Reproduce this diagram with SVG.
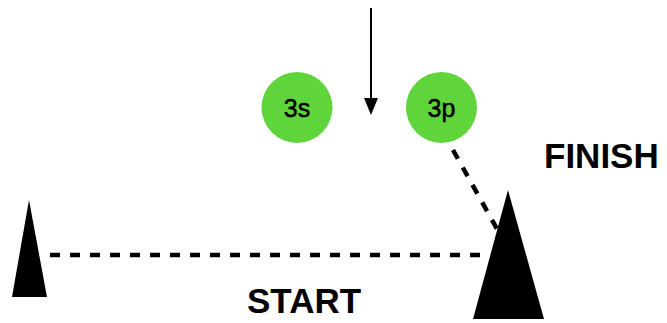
<svg xmlns="http://www.w3.org/2000/svg" width="667" height="323" viewBox="0 0 667 323">
<style>
.dash{stroke:#000;stroke-width:4.5;stroke-dasharray:10 10;fill:none}
.node{fill:#5fd43b}
.lbl{font-family:"Liberation Sans",Arial,sans-serif;font-size:25px;fill:#000;stroke:#000;stroke-width:0.5;text-anchor:middle}
.big{font-family:"Liberation Sans",Arial,sans-serif;font-size:35px;font-weight:bold;fill:#000}
</style>
<rect width="667" height="323" fill="#fff"/>
<g id="connectors">
<line class="dash" x1="50" y1="255" x2="480" y2="255"/>
<line class="dash" x1="453" y1="150" x2="497" y2="229"/>
<line x1="371" y1="8" x2="371" y2="98" stroke="#000" stroke-width="2"/>
<path d="M364,98 L378,98 L371,115 Z" fill="#000"/>
</g>
<g id="start-post"><polygon points="29,200 47,297 12,297" fill="#000"/></g>
<g id="finish-post"><polygon points="508,190 544,319 473,319" fill="#000"/></g>
<g id="n3s"><circle class="node" cx="297" cy="107.5" r="35.5"/><text class="lbl" x="297" y="117">3s</text></g>
<g id="n3p"><circle class="node" cx="441.5" cy="107.5" r="35.5"/><text class="lbl" x="441.5" y="117">3p</text></g>
<g id="finish-label"><text class="big" x="544" y="167.5">FINISH</text></g>
<g id="start-label"><text class="big" x="247" y="312.5">START</text></g>
</svg>
